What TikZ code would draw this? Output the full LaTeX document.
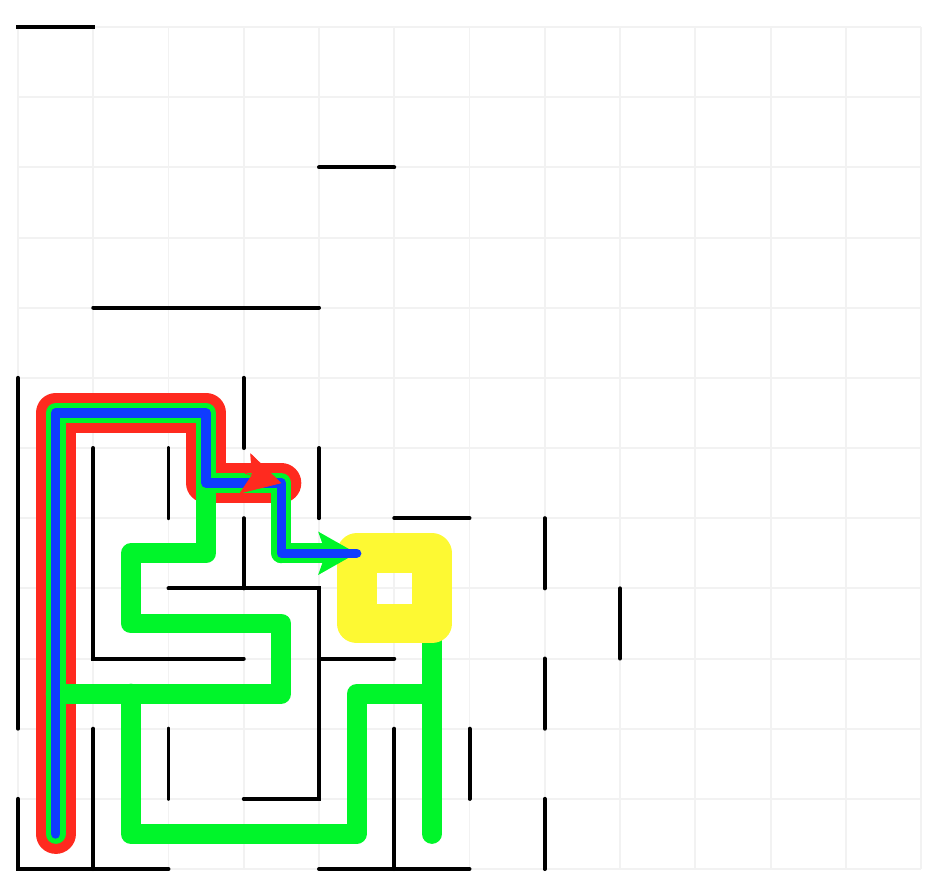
\documentclass[tikz,border=0pt]{standalone}
\usepackage{tikz}
\usetikzlibrary{
    arrows.meta,
    calc
}
\definecolor{rojo}{RGB}{255,42,31}
\definecolor{verde}{RGB}{0,245,42}
\definecolor{azul}{RGB}{15,60,255}
\definecolor{amarillo}{RGB}{253,249,51}
\definecolor{gris}{RGB}{242,242,242}
\tikzset{
    >={Stealth[length=21.5pt, width=23.8pt, inset=4pt]},
    rejilla/.style={
        gris,
        line width=1.13pt
    },
    pared/.style={
        line width=2.27pt,
        line cap=round
    },
    camino/.style={
        line cap=round,
        line join=round
    }
}

\begin{document}
\begin{tikzpicture}[
    x=1.505cm,
    y=-1.4034cm
]
    \useasboundingbox (-0.2392,-0.3848) rectangle (12.3056,12.2702);

    % Rejilla
    \foreach \k in {0,...,12} {
        \draw[rejilla] (\k,0) -- (\k,12);
        \draw[rejilla] (0,\k) -- (12,\k);
    }

    % Centros de las celdas
    \foreach \i in {0,...,11}
        \foreach \j in {0,...,11}
            \coordinate (c\i-\j) at (\i+0.5,\j+0.5);

    % Paredes
    \draw[pared, line cap=rect] (0,0) -- (1,0);
    \draw[pared] (4,2) -- (5,2);
    \draw[pared] (1,4) -- (4,4);
    \draw[pared] (0,5) -- (0,10);
    \draw[pared] (0,11) -- (0,12) -- (2,12);
    \draw[pared] (1,10) -- (1,12);
    \draw[pared] (1,6) -- (1,9) -- (3,9);
    \draw[pared] (2,6) -- (2,7);
    \draw[pared] (3,5) -- (3,6);
    \draw[pared] (3,7) -- (3,8);
    \draw[pared] (2,8) -- (4,8) -- (4,11) -- (3,11);
    \draw[pared] (4,9) -- (5,9);
    \draw[pared] (4,6) -- (4,7);
    \draw[pared] (5,7) -- (6,7);
    \draw[pared] (2,10) -- (2,11);
    \draw[pared] (5,10) -- (5,12);
    \draw[pared] (4,12) -- (6,12);
    \draw[pared] (6,10) -- (6,11);
    \draw[pared] (7,7) -- (7,8);
    \draw[pared] (7,9) -- (7,10);
    \draw[pared] (7,11) -- (7,12);
    \draw[pared] (8,8) -- (8,9);

    % Camino rojo
    \draw[rojo, line width=22.7pt, camino]
        (c0-11) -- (c0-5) -- (c2-5) -- (c2-6) -- (c3-6);

    % Arbol verde
    \draw[verde, line width=11.3pt, camino]
        (c0-11) -- (c0-5) -- (c2-5) -- (c2-6) -- (c3-6) -- (c3-7);
    \draw[verde, line width=11.3pt, camino]
        (c2-6) -- (c2-7) -- (c1-7) -- (c1-8) -- (c3-8) -- (c3-9) -- (c0-9);
    \draw[verde, line width=11.3pt, camino]
        (c1-9) -- (c1-11) -- (c4-11) -- (c4-9) -- (c5-9);
    \draw[verde, line width=11.3pt, camino] (c5-8) -- (c5-11);

    % Meta
    \draw[amarillo, line width=22.7pt, line join=round]
        (c4-7) -- (c5-7) -- (c5-8) -- (c4-8) -- cycle;

    \draw[verde, line width=11.3pt, camino, ->] (c3-7) -- (c4-7);

    % Camino azul
    \draw[azul, line width=5.4pt, camino]
        (c0-11) -- (c0-5) -- (c2-5) -- (c2-6) -- (c3-6) -- (c3-7) -- (c4-7);

    \draw[rojo, line width=0.4pt, ->] ($(c3-6)+(165:21.5pt)$) -- (c3-6);

\end{tikzpicture}
\end{document}
